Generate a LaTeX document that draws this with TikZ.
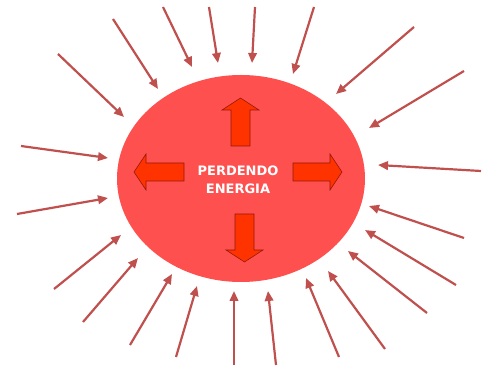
\documentclass[tikz,border=0pt]{standalone}
\usepackage{fontspec}
\setsansfont{DejaVu Sans}
\usepackage{tikz}
\usetikzlibrary{arrows.meta,shapes.geometric}
\definecolor{sunfill}{RGB}{255,80,80}
\definecolor{rayred}{RGB}{192,80,77}
\definecolor{blockfill}{RGB}{255,51,0}
\definecolor{blockline}{RGB}{150,25,10}

\begin{document}
\begin{tikzpicture}[x=1pt, y=-1pt,
  ray/.style={draw=rayred, line width=2.2pt, -{Triangle[length=10pt,width=8.5pt]}},
  bigarrow/.style={draw=blockline, fill=blockfill, line width=0.6pt, line join=miter}]
\useasboundingbox (0,0) rectangle (491,371);
\node[ellipse, fill=sunfill, minimum width=248pt, minimum height=207pt, inner sep=0pt] (sun) at (241,178.5) {};
% outgoing block arrows
\path[bigarrow] (231,146) -- (231,110) -- (222,110) -- (240.5,98) -- (259,110) -- (250,110) -- (250,146) -- cycle;
\path[bigarrow] (235,214) -- (254,214) -- (254,250) -- (263,250) -- (244.5,262) -- (226,250) -- (235,250) -- cycle;
\path[bigarrow] (184,163) -- (146,163) -- (146,154) -- (134,172) -- (146,190) -- (146,181) -- (184,181) -- cycle;
\path[bigarrow] (293,163) -- (330,163) -- (330,154) -- (342,172) -- (330,190) -- (330,181) -- (293,181) -- cycle;
\node[text=white, font=\sffamily\bfseries\fontsize{13}{18}\selectfont, align=center] (label) at (238,179.5) {PERDENDO\\ENERGIA};
% incoming rays
\foreach \i/\ax/\ay/\bx/\by in {1/58/54/124/117, 2/113/19/158/89, 3/163/7/192/67, 4/209/7/218/63,
  5/255/7/252/63, 6/314/7/293/74, 7/414/27/336/94, 8/464/71/369/128,
  9/21/146/108/158, 10/17/214/108/198, 11/54/289/121/235, 12/83/322/138/258,
  13/130/345/172/274, 14/176/357/197/286, 15/234/365/234/291, 16/276/365/268/291,
  17/339/357/306/278, 18/385/349/328/271, 19/427/313/348/251, 20/456/285/365/230,
  21/464/238/369/206, 22/481/171/378/165}{
  \coordinate (s\i) at (\ax,\ay);
  \coordinate (e\i) at (\bx,\by);
  \draw[ray] (s\i) -- (e\i);
}
\end{tikzpicture}
\end{document}
